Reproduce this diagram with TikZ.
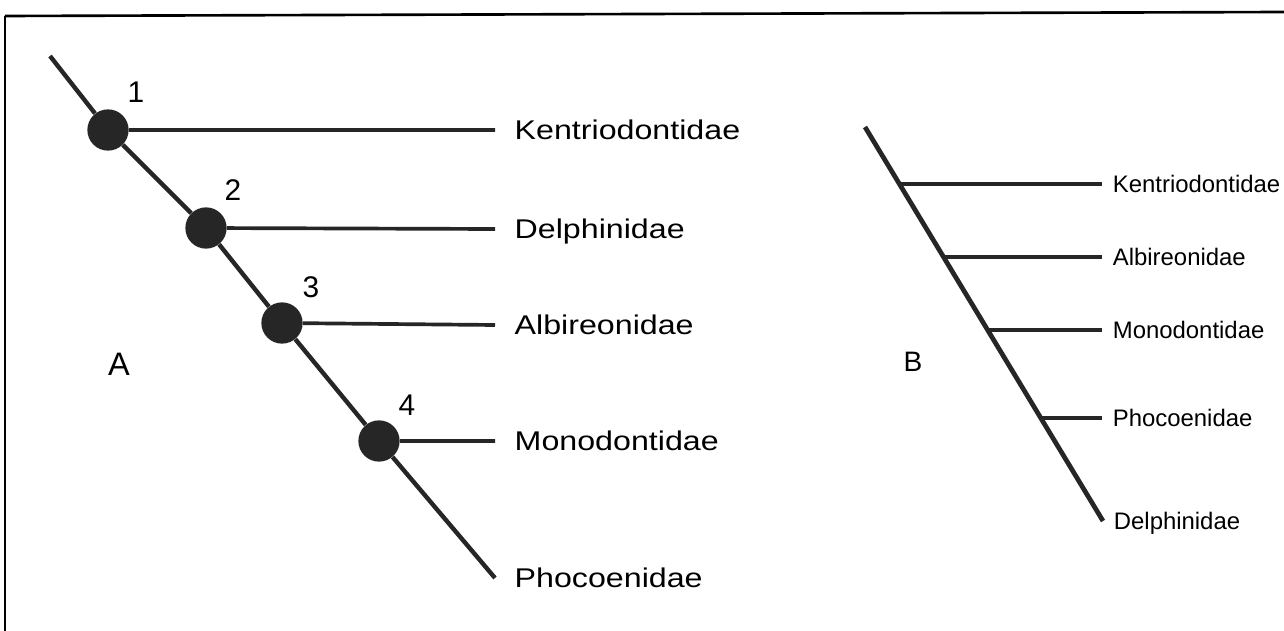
\documentclass[tikz,border=0pt]{standalone}
\usepackage{fontspec}
\setmainfont{Liberation Sans}
\newfontfamily\widefont[FakeStretch=1.19]{Liberation Sans}
\begin{document}
\begin{tikzpicture}[x=0.02cm,y=-0.02cm,
  dot/.style={circle,fill=black!85,inner sep=0pt,minimum size=23.5pt},
  taxa/.style={anchor=west,inner xsep=11pt,inner ysep=0pt,text depth=0pt,font=\widefont\fontsize{15.4}{16}\selectfont},
  btaxa/.style={anchor=west,inner xsep=6pt,inner ysep=0pt,text depth=0pt,font=\fontsize{13.6}{15}\selectfont},
  num/.style={inner sep=0pt,text depth=0pt,font=\fontsize{17}{18}\selectfont},
  tag/.style={inner sep=0pt,text depth=0pt,font=\fontsize{18.5}{20}\selectfont},
  atree/.style={line width=2.5pt,black!85},
  branch/.style={line width=2.1pt,black!85},
  btree/.style={line width=2.7pt,black!85}]
 \useasboundingbox (0,0) rectangle (1284,631);
 % frame
 \coordinate (f0) at (5,631);
 \coordinate (f1) at (5,16);
 \coordinate (f2) at (1284,12);
 \draw[line width=0.8pt] (f0)--(f1);
 \draw[line width=1.5pt] (f1)--(f2);
 % tree A
 \coordinate (atop) at (50,56);
 \node[dot] (n1) at (108,130) {};
 \node[dot] (n2) at (206,228) {};
 \node[dot] (n3) at (282,323) {};
 \node[dot] (n4) at (379,441) {};
 \node[taxa] (aK) at (495,130) {Kentriodontidae};
 \node[taxa] (aD) at (495,229) {Delphinidae};
 \node[taxa] (aA) at (495,325) {Albireonidae};
 \node[taxa] (aM) at (495,441) {Monodontidae};
 \node[taxa] (aP) at (495,578) {Phocoenidae};
 \draw[atree] (atop)--(n1)--(n2)--(n3)--(n4)--(aP.west);
 \draw[branch] (n1)--(aK.west) (n2)--(aD.west) (n3)--(aA.west) (n4)--(aM.west);
 \node[num] (k1) at (136,92) {1};
 \node[num] (k2) at (233,190) {2};
 \node[num] (k3) at (311,287) {3};
 \node[num] (k4) at (407,405) {4};
 \node[tag] (la) at (119,364) {A};
 % tree B
 \coordinate (btop) at (865,127);
 \coordinate (b1) at (899,184);
 \coordinate (b2) at (944,257);
 \coordinate (b3) at (988,330);
 \coordinate (b4) at (1041,418);
 \node[btaxa] (bK) at (1102,184) {Kentriodontidae};
 \node[btaxa] (bA) at (1102,257) {Albireonidae};
 \node[btaxa] (bM) at (1102,330) {Monodontidae};
 \node[btaxa] (bP) at (1102,418) {Phocoenidae};
 \node[btaxa] (bD) at (1103,521) {Delphinidae};
 \draw[btree] (btop)--(bD.west);
 \draw[btree] (b1)--(bK.west) (b2)--(bA.west) (b3)--(bM.west) (b4)--(bP.west);
 \node[tag,font=\fontsize{16}{18}\selectfont] (lb) at (913,362) {B};
\end{tikzpicture}
\end{document}
